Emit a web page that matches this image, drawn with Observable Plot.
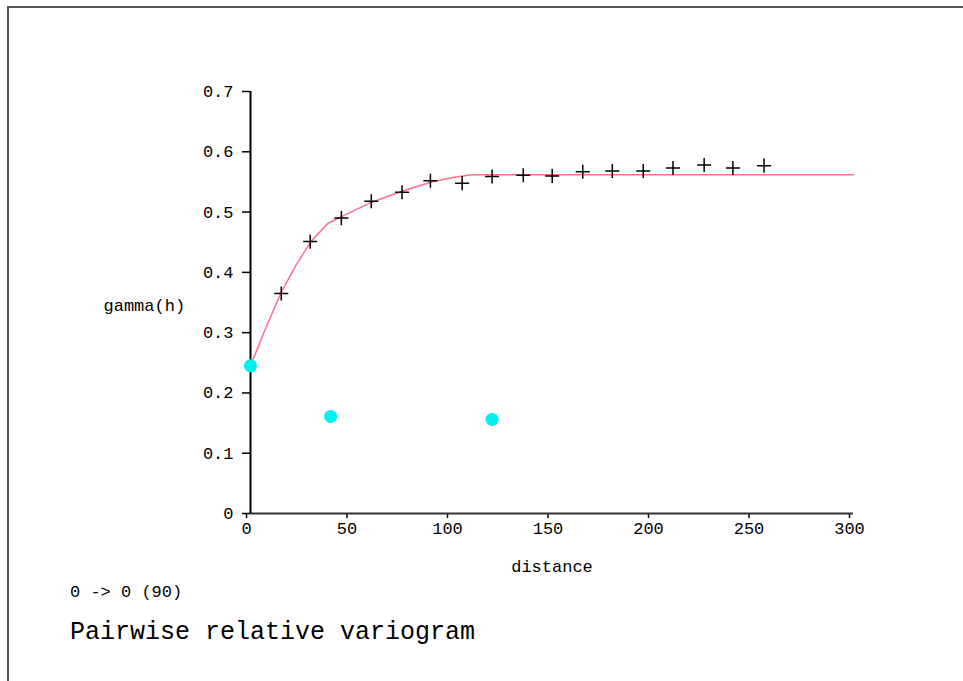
<!DOCTYPE html>
<html>
<head>
<meta charset="utf-8">
<script src="https://cdn.jsdelivr.net/npm/d3@7"></script>
<script src="https://cdn.jsdelivr.net/npm/@observablehq/plot@0.6"></script>
<style>
  html, body { margin: 0; padding: 0; background: #fff; overflow: hidden; width: 963px; height: 681px; }
  #frame { position: absolute; left: 7px; top: 6px; width: 1000px; height: 700px;
           border-left: 2px solid #555; border-top: 2px solid #555; }
  #chart { position: absolute; left: 0; top: 0; }
  .cap { position: absolute; font-family: "Liberation Mono", monospace; color: #000; white-space: pre; line-height: 1; }
  #dir { left: 70px; top: 584px; font-size: 17px; }
  #title { left: 70px; top: 620px; font-size: 25px; }
</style>
</head>
<body>
<div id="frame"></div>
<div id="chart"></div>
<div class="cap" id="dir">0 -&gt; 0 (90)</div>
<div class="cap" id="title">Pairwise relative variogram</div>
<script>
// Experimental variogram points (plus markers)
const lagDist  = [15.3, 29.7, 45.2, 60.1, 75.4, 89.5, 105.3, 120.2, 135.7, 150.1, 165.3, 180.0, 195.4, 210.2, 225.7, 240.0, 255.5];
const gammaExp = [0.365, 0.451, 0.490, 0.518, 0.533, 0.552, 0.548, 0.559, 0.561, 0.560, 0.567, 0.568, 0.568, 0.573, 0.578, 0.573, 0.577];
// Model curve (pink line)
const modelDist  = [0, 7.5, 15, 22.5, 30, 38.5, 45, 60, 75, 90, 100, 110, 300];
const modelGamma = [0.245, 0.307, 0.365, 0.411, 0.451, 0.481, 0.492, 0.516, 0.534, 0.550, 0.557, 0.562, 0.562];
// Cyan points
const cyanDist  = [0, 39.9, 120.2];
const cyanGamma = [0.245, 0.161, 0.156];
// Ticks
const xTicks = [0, 50, 100, 150, 200, 250, 300];
const xTickLabels = ["0", "50", "100", "150", "200", "250", "300"];
const yTicks = [0, 0.1, 0.2, 0.3, 0.4, 0.5, 0.6, 0.7];
const yTickLabels = ["0", "0.1", "0.2", "0.3", "0.4", "0.5", "0.6", "0.7"];
const xLabel = "distance";
const yLabel = "gamma(h)";

const expData = lagDist.map((d, i) => ({x: d, y: gammaExp[i]}));
const modelData = modelDist.map((d, i) => ({x: d, y: modelGamma[i]}));
const cyanData = cyanDist.map((d, i) => ({x: d, y: cyanGamma[i]}));

const plot = Plot.plot({
  width: 963,
  height: 580,
  marginTop: 91,
  marginBottom: 67,
  marginLeft: 250,
  marginRight: 110,
  style: {fontFamily: "Liberation Mono, monospace", fontSize: "17px", color: "#000", background: "transparent", overflow: "visible"},
  x: {domain: [0, 300]},
  y: {domain: [0, 0.7]},
  marks: [
    Plot.axisX({ticks: xTicks, tickFormat: (d, i) => xTickLabels[xTicks.indexOf(d)], tickSize: 5, tickPadding: 3, dx: -4,
      label: xLabel, labelAnchor: "center", labelArrow: "none", labelOffset: 58, strokeWidth: 1.5}),
    Plot.axisY({ticks: yTicks, tickFormat: d => yTickLabels[yTicks.findIndex(t => Math.abs(t - d) < 1e-9)], tickSize: 8, tickPadding: 9,
      label: null, strokeWidth: 1.5}),
    Plot.ruleY([0], {x1: 0, x2: 300, stroke: "#333", strokeWidth: 2}),
    Plot.ruleX([0], {y1: 0, y2: 0.7, stroke: "#000", strokeWidth: 2}),
    Plot.text([yLabel], {frameAnchor: "left", textAnchor: "start", dx: -147, dy: 3, fill: "#000"}),
    Plot.line(modelData, {x: "x", y: "y", stroke: "#ff6f8c", strokeWidth: 1.5}),
    Plot.dot(expData, {x: "x", y: "y", symbol: "plus", r: 4.6, stroke: "#000", strokeWidth: 1.5}),
    Plot.dot(cyanData, {x: "x", y: "y", r: 6.5, fill: "#00f0f0", stroke: "none"})
  ]
});
document.getElementById("chart").appendChild(plot);
</script>
</body>
</html>
